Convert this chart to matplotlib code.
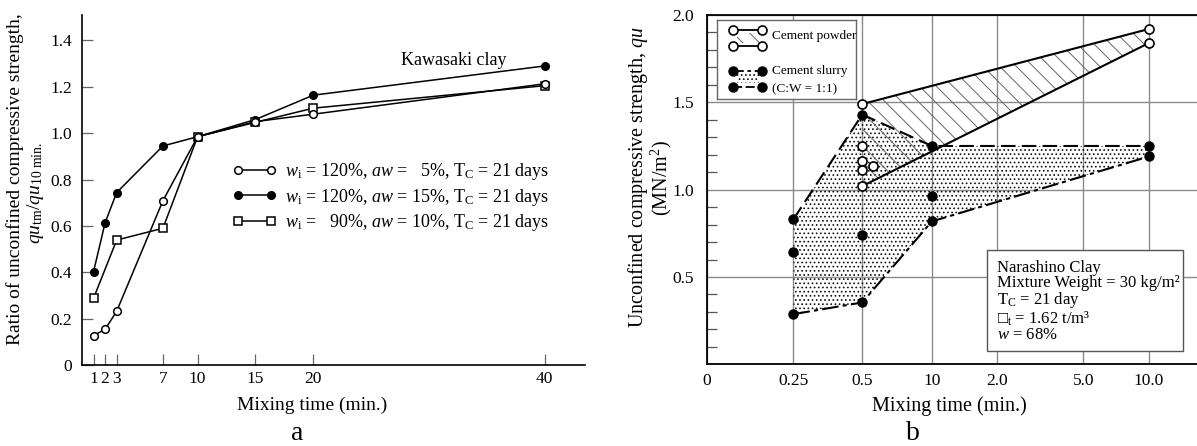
import numpy as np
import matplotlib
matplotlib.use("Agg")
import matplotlib.pyplot as plt
from matplotlib.patches import Rectangle

plt.rcParams['font.family'] = ['Liberation Serif', 'DejaVu Serif']
plt.rcParams['mathtext.fontset'] = 'custom'
plt.rcParams['mathtext.rm'] = 'Liberation Serif'
plt.rcParams['mathtext.it'] = 'Liberation Serif:italic'
plt.rcParams['hatch.linewidth'] = 0.7

# ---- panel a data (Kawasaki clay) ----
a_time = [1, 2, 3, 7, 10, 15, 20, 40]
a_time_sq = [1, 3, 7, 10, 15, 20, 40]
a_open = [0.127, 0.154, 0.232, 0.709, 0.985, 1.050, 1.082, 1.213]
a_filled = [0.403, 0.614, 0.744, 0.945, 0.985, 1.059, 1.164, 1.290]
a_square = [0.288, 0.539, 0.590, 0.985, 1.047, 1.108, 1.205]
a_labels = [r'$w_\mathrm{i}$ = 120%, $aw$ =   5%, T$_\mathrm{C}$ = 21 days',
            r'$w_\mathrm{i}$ = 120%, $aw$ = 15%, T$_\mathrm{C}$ = 21 days',
            r'$w_\mathrm{i}$ =   90%, $aw$ = 10%, T$_\mathrm{C}$ = 21 days']
a_xticks = [1, 2, 3, 7, 10, 15, 20, 40]
a_yticks = [0, 0.2, 0.4, 0.6, 0.8, 1.0, 1.2, 1.4]

# ---- panel b data (Narashino clay) ----
b_ticks = [0, 0.25, 0.5, 1, 2, 5, 10]
b_ticklabels = ['0', '0.25', '0.5', '10', '2.0', '5.0', '10.0']
b_tickpos = [0, 1.0, 1.795, 2.597, 3.347, 4.346, 5.104]

powder_x = [0.5, 10]
powder_hi = [1.49, 1.92]
powder_lo = [1.02, 1.84]
powder_pts_x = [0.5, 0.5, 0.5, 0.58]
powder_pts_y = [1.25, 1.165, 1.11, 1.138]

slurry_x = [0.25, 0.5, 1, 10]
slurry_hi = [0.83, 1.43, 1.25, 1.25]
slurry_lo = [0.287, 0.354, 0.818, 1.19]
slurry_pts_x = [0.25, 0.5, 1]
slurry_pts_y = [0.644, 0.74, 0.965]

info_lines = ['Narashino Clay', 'Mixture Weight = 30 kg/m²',
              r'T$_\mathrm{C}$ = 21 day', r'□$_\mathrm{t}$ = 1.62 t/m³', r'$w$ = 68%']

fig = plt.figure(figsize=(11.97, 4.46), dpi=100)

# ================= panel a =================
ax1 = fig.add_axes([0.0685, 0.1816, 0.4202, 0.7848])
ax1.plot(a_time, a_filled, '-o', color='black', lw=1.1, ms=5.5, mfc='black', label=a_labels[1])
ax1.plot(a_time_sq, a_square, '-s', color='black', lw=1.1, ms=5.5, mfc='white', mew=1.1, label=a_labels[2])
ax1.plot(a_time, a_open, '-o', color='black', lw=1.1, ms=5.5, mfc='white', mew=1.1, label=a_labels[0])
ax1.set_xlim(0, 43.5)
ax1.set_ylim(0, 1.51)
ax1.set_xticks(a_xticks)
ax1.set_yticks(a_yticks)
ax1.set_yticklabels(['0' if v == 0 else f'{v:.1f}' for v in a_yticks])
for s in ['top', 'right']:
    ax1.spines[s].set_visible(False)
for s in ['left', 'bottom']:
    ax1.spines[s].set_linewidth(1.2)
ax1.tick_params(direction='in', length=8, width=0.9, color='#666', labelsize=12.5)
ax1.tick_params(axis='x', pad=4)
ax1.tick_params(axis='y', pad=7)

h, l = ax1.get_legend_handles_labels()
order = [2, 0, 1]
ax1.legend([h[i] for i in order], [l[i] for i in order], loc='upper left',
           bbox_to_anchor=(0.30, 0.582), frameon=False, fontsize=13, numpoints=2,
           handlelength=2.4, handletextpad=0.5, labelspacing=0.25, borderpad=0,
           borderaxespad=0)
ax1.text(0.7396, 0.871, 'Kawasaki clay', transform=ax1.transAxes, ha='center',
         va='center', fontsize=13)

fig.text(15 / 1197, 1 - 179 / 446, 'Ratio of unconfined compressive strength,',
         rotation=90, ha='center', va='center', fontsize=14)
fig.text(36 / 1197, 1 - 193 / 446, r'$qu_\mathrm{tm}/qu_\mathrm{10\ min.}$',
         rotation=90, ha='center', va='center', fontsize=14)
fig.text(312 / 1197, 1 - 405 / 446, 'Mixing time (min.)', ha='center', va='center', fontsize=14)
fig.text(297 / 1197, 1 - 433 / 446, 'a', ha='center', va='center', fontsize=20)

# ================= panel b =================
scale_vals = b_ticks + [15]
scale_pos = b_tickpos + [5.657]


def fwd(x):
    return np.interp(x, scale_vals, scale_pos)


def inv(y):
    return np.interp(y, scale_pos, scale_vals)


ax2 = fig.add_axes([0.5904, 0.1832, 0.4096, 0.7832])
ax2.set_xscale('function', functions=(fwd, inv))
ax2.set_xlim(0, 15)
ax2.set_ylim(0, 2.0)
ax2.set_axisbelow(True)

ax2.fill_between(slurry_x, slurry_lo, slurry_hi, facecolor='none', edgecolor='#111',
                 linewidth=0, hatch='....', zorder=1)
ax2.fill_between(powder_x, powder_lo, powder_hi, facecolor='none', edgecolor='#666',
                 linewidth=0, hatch='\\\\', zorder=1)

ax2.plot(powder_x, powder_hi, color='black', lw=1.5, zorder=3)
ax2.plot(powder_x, powder_lo, color='black', lw=1.5, zorder=3)
ax2.plot(slurry_x, slurry_hi, color='black', lw=1.5, dashes=(7, 3), zorder=3)
ax2.plot(slurry_x, slurry_lo, color='black', lw=1.5, dashes=(8, 2, 2, 2), zorder=3)

ax2.plot(slurry_x, slurry_hi, 'o', color='black', ms=6.5, zorder=4)
ax2.plot(slurry_x, slurry_lo, 'o', color='black', ms=6.5, zorder=4)
ax2.plot(slurry_pts_x, slurry_pts_y, 'o', color='black', ms=6.5, zorder=4)
ax2.plot(powder_x, powder_hi, 'o', mfc='white', mec='black', mew=1.2, ms=6.5, zorder=4)
ax2.plot(powder_x, powder_lo, 'o', mfc='white', mec='black', mew=1.2, ms=6.5, zorder=4)
ax2.plot(powder_pts_x, powder_pts_y, 'o', mfc='white', mec='black', mew=1.2, ms=6.5, zorder=4)

ax2.set_xticks(b_ticks)
ax2.set_xticklabels(b_ticklabels)
ax2.xaxis.set_minor_locator(matplotlib.ticker.NullLocator())
ax2.set_yticks([0.5, 1.0, 1.5, 2.0])
ax2.set_yticklabels(['0.5', '1.0', '1.5', '2.0'])
ax2.set_yticks([v / 10 for v in range(1, 20) if v % 5 != 0], minor=True)
ax2.grid(True, which='major', color='#8a8a8a', lw=1.0)
ax2.tick_params(axis='both', which='major', length=0, labelsize=12.5)
ax2.tick_params(axis='x', pad=6)
ax2.tick_params(axis='y', pad=9)
ax2.tick_params(axis='y', which='minor', direction='in', length=7, width=0.9, color='#555')
ax2.spines['right'].set_visible(False)
for s in ['left', 'bottom', 'top']:
    ax2.spines[s].set_linewidth(1.3)

# legend box (inset)
lg = ax2.inset_axes([0.0216, 0.7587, 0.2823, 0.227], zorder=6)
lg.set_xlim(0, 1)
lg.set_ylim(0, 1)
lg.set_xticks([])
lg.set_yticks([])
for s in lg.spines.values():
    s.set_color('#666')
    s.set_linewidth(1.0)
cx = [0.111, 0.321]
lg.fill_between([0.14, 0.30], 0.71, 0.84, facecolor='none', edgecolor='#666', lw=0, hatch='\\\\')
lg.fill_between([0.14, 0.30], 0.20, 0.32, facecolor='none', edgecolor='#111', lw=0, hatch='....')
lg.plot(cx, [0.874, 0.874], '-o', color='black', lw=1.3, ms=6.5, mfc='white', mew=1.2)
lg.plot(cx, [0.676, 0.676], '-o', color='black', lw=1.3, ms=6.5, mfc='white', mew=1.2)
lg.plot(cx, [0.361, 0.361], '-o', color='black', lw=1.3, ms=6.5, dashes=(6, 2, 2, 2))
lg.plot(cx, [0.159, 0.159], '-o', color='black', lw=1.3, ms=6.5, dashes=(5, 2))
lg.text(0.393, 0.798, 'Cement powder', fontsize=9.5, va='center')
lg.text(0.393, 0.357, 'Cement slurry', fontsize=9.5, va='center')
lg.text(0.393, 0.130, '(C:W = 1:1)', fontsize=9.5, va='center')

# info box
ax2.add_patch(Rectangle((0.571, 0.038), 0.401, 0.289, transform=ax2.transAxes,
                        facecolor='white', edgecolor='#555', lw=1.0, zorder=5))
ax2.text(0.5915, 0.300, '\n'.join(info_lines), transform=ax2.transAxes, fontsize=12,
         va='top', ha='left', linespacing=0.95, zorder=6)

fig.text(638 / 1197, 1 - 177 / 446, r'Unconfined compressive strength, $qu$',
         rotation=90, ha='center', va='center', fontsize=14.5)
fig.text(661 / 1197, 1 - 178 / 446, r'(MN/m$^2$)',
         rotation=90, ha='center', va='center', fontsize=14.5)
fig.text(949 / 1197, 1 - 406 / 446, 'Mixing time (min.)', ha='center', va='center', fontsize=14.5)
fig.text(913 / 1197, 1 - 433 / 446, 'b', ha='center', va='center', fontsize=20)

fig.savefig('out.png', dpi=100)
